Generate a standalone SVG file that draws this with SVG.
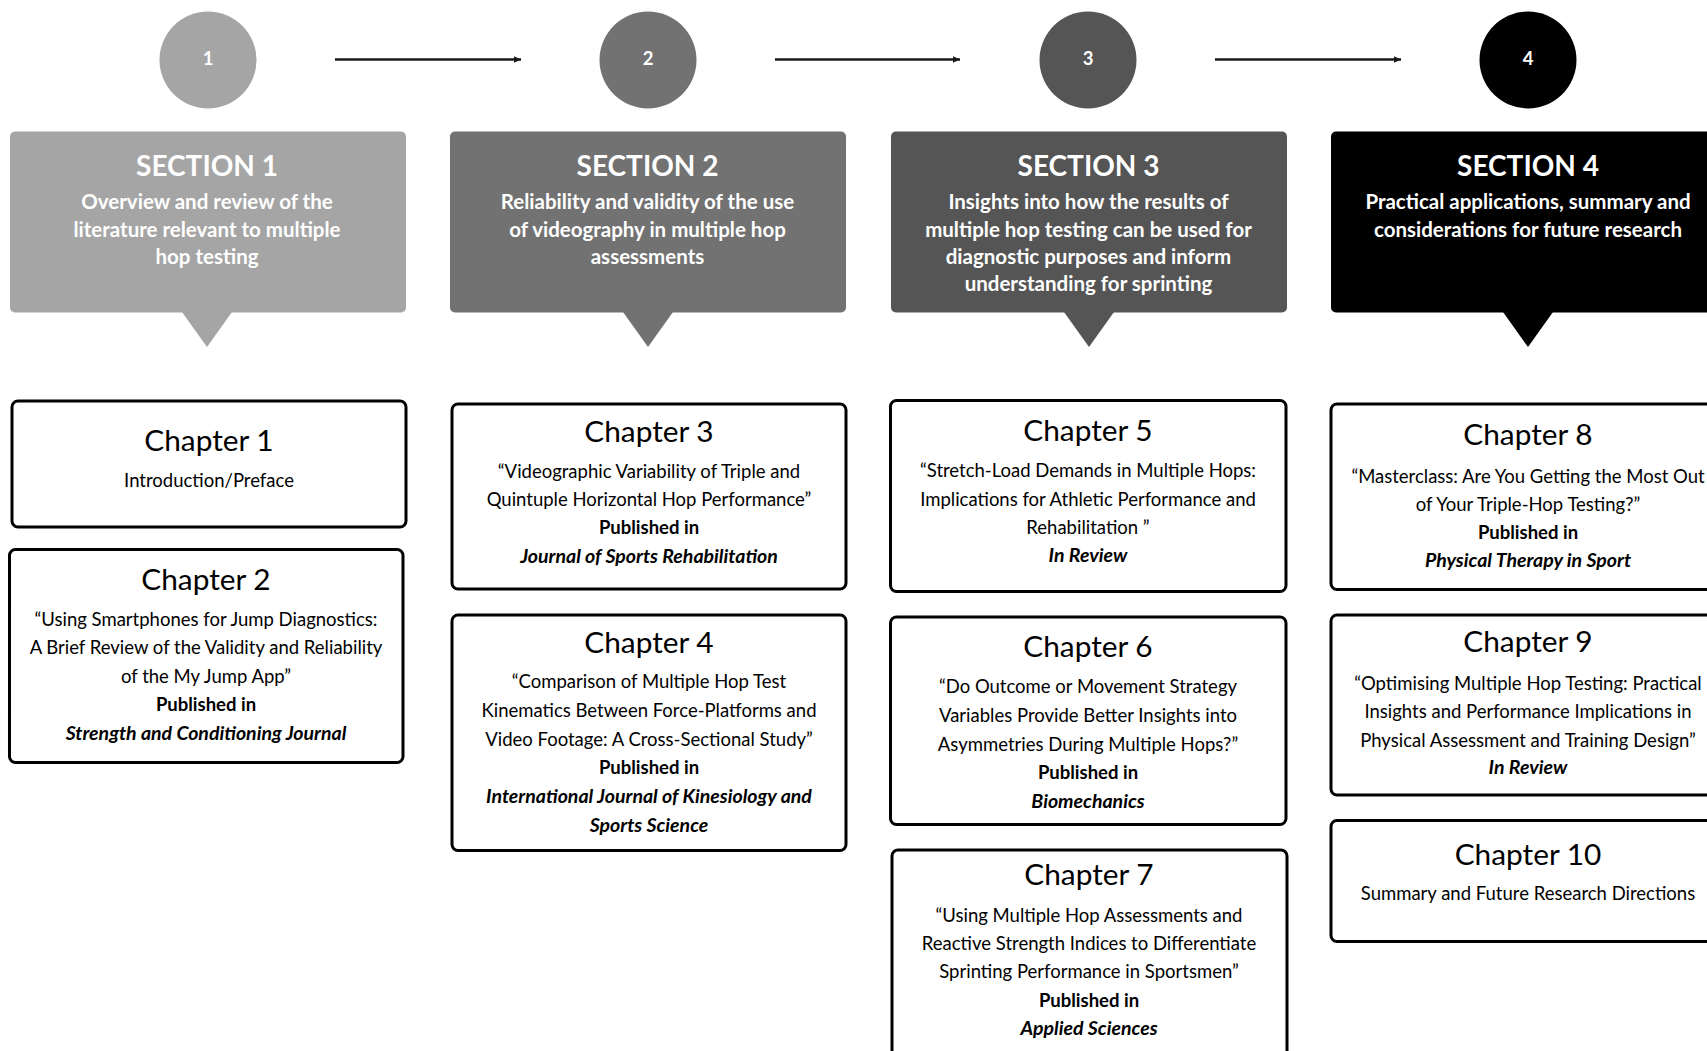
<svg xmlns="http://www.w3.org/2000/svg" width="1707" height="1051" viewBox="0 0 1707 1051">
  <style>
    text { font-family: Lato, "Open Sans", "Liberation Sans", sans-serif; text-anchor: middle; }
    .num { font-size: 18.5px; font-weight: 700; fill: #ffffff; }
    .sec-title { font-size: 28px; font-weight: 700; fill: #ffffff; }
    .sec-text { font-size: 20.5px; font-weight: 700; fill: #ffffff; }
    .ch-box { fill: #ffffff; stroke: #000000; stroke-width: 3; }
    .ch-title { font-size: 29.8px; font-weight: 400; fill: #000000; }
    .ch-text { font-size: 18.5px; font-weight: 400; fill: #000000; }
    .pub { font-weight: 700; }
    .journal { font-size: 19.5px; font-weight: 700; font-style: italic; }
    .flow { stroke: #1a1a1a; stroke-width: 2.5; fill: none; }
  </style>
  <defs>
    <marker id="head" markerUnits="userSpaceOnUse" markerWidth="8" markerHeight="8" refX="7" refY="4" orient="auto">
      <path d="M0,0.8 L7,4 L0,7.2 Z" fill="#1a1a1a"/>
    </marker>
  </defs>

  <rect width="1707" height="1051" fill="#ffffff"/>

  <!-- step markers -->
  <g id="step-1"><circle cx="208" cy="60" r="48.5" fill="#a5a5a5"/><text class="num" x="208" y="65">1</text></g>
  <g id="step-2"><circle cx="648" cy="60" r="48.5" fill="#727272"/><text class="num" x="648" y="65">2</text></g>
  <g id="step-3"><circle cx="1088" cy="60" r="48.5" fill="#555555"/><text class="num" x="1088" y="65">3</text></g>
  <g id="step-4"><circle cx="1528" cy="60" r="48.5" fill="#000000"/><text class="num" x="1528" y="65">4</text></g>

  <!-- connectors between steps -->
  <g id="connectors">
    <line class="flow" x1="335" y1="59.5" x2="521" y2="59.5" marker-end="url(#head)"/>
    <line class="flow" x1="775" y1="59.5" x2="960" y2="59.5" marker-end="url(#head)"/>
    <line class="flow" x1="1215" y1="59.5" x2="1401" y2="59.5" marker-end="url(#head)"/>
  </g>

  <!-- section callouts -->
  <g id="section-1">
    <rect x="10" y="131.5" width="396" height="181" rx="5" fill="#a5a5a5"/>
    <polygon points="182,312 232,312 207,347" fill="#a5a5a5"/>
    <text class="sec-title" x="207" y="176">SECTION 1</text>
    <text class="sec-text" x="207" y="209.3">Overview and review of the</text>
    <text class="sec-text" x="207" y="236.5">literature relevant to multiple</text>
    <text class="sec-text" x="207" y="263.7">hop testing</text>
  </g>
  <g id="section-2">
    <rect x="450" y="131.5" width="396" height="181" rx="5" fill="#727272"/>
    <polygon points="623,312 673,312 648,347" fill="#727272"/>
    <text class="sec-title" x="647.5" y="176">SECTION 2</text>
    <text class="sec-text" x="647.5" y="209.3">Reliability and validity of the use</text>
    <text class="sec-text" x="647.5" y="236.5">of videography in multiple hop</text>
    <text class="sec-text" x="647.5" y="263.7">assessments</text>
  </g>
  <g id="section-3">
    <rect x="891" y="131.5" width="396" height="181" rx="5" fill="#555555"/>
    <polygon points="1064,312 1114,312 1089,347" fill="#555555"/>
    <text class="sec-title" x="1088.5" y="176">SECTION 3</text>
    <text class="sec-text" x="1088.5" y="209.3">Insights into how the results of</text>
    <text class="sec-text" x="1088.5" y="236.5">multiple hop testing can be used for</text>
    <text class="sec-text" x="1088.5" y="263.7">diagnostic purposes and inform</text>
    <text class="sec-text" x="1088.5" y="291">understanding for sprinting</text>
  </g>
  <g id="section-4">
    <rect x="1331" y="131.5" width="396" height="181" rx="5" fill="#000000"/>
    <polygon points="1503,312 1553,312 1528,347" fill="#000000"/>
    <text class="sec-title" x="1528" y="176">SECTION 4</text>
    <text class="sec-text" x="1528" y="209.3">Practical applications, summary and</text>
    <text class="sec-text" x="1528" y="236.5">considerations for future research</text>
  </g>

  <!-- chapter cards: column 1 -->
  <g id="chapter-1">
    <rect class="ch-box" x="12" y="401" width="394" height="126" rx="6"/>
    <text class="ch-title" x="209" y="450.5">Chapter 1</text>
    <text class="ch-text" x="209" y="486.7">Introduction/Preface</text>
  </g>
  <g id="chapter-2">
    <rect class="ch-box" x="9.5" y="549.5" width="393.5" height="213" rx="6"/>
    <text class="ch-title" x="206" y="590">Chapter 2</text>
    <text class="ch-text" x="206" y="625.7">“Using Smartphones for Jump Diagnostics:</text>
    <text class="ch-text" x="206" y="654.3">A Brief Review of the Validity and Reliability</text>
    <text class="ch-text" x="206" y="683">of the My Jump App”</text>
    <text class="ch-text pub" x="206" y="711">Published in</text>
    <text class="ch-text journal" x="206" y="739.5">Strength and Conditioning Journal</text>
  </g>

  <!-- column 2 -->
  <g id="chapter-3">
    <rect class="ch-box" x="452" y="404" width="394" height="185" rx="6"/>
    <text class="ch-title" x="649" y="442.3">Chapter 3</text>
    <text class="ch-text" x="649" y="477.7">“Videographic Variability of Triple and</text>
    <text class="ch-text" x="649" y="506">Quintuple Horizontal Hop Performance”</text>
    <text class="ch-text pub" x="649" y="534.3">Published in</text>
    <text class="ch-text journal" x="649" y="562.7">Journal of Sports Rehabilitation</text>
  </g>
  <g id="chapter-4">
    <rect class="ch-box" x="452" y="615" width="394" height="235.5" rx="6"/>
    <text class="ch-title" x="649" y="652.7">Chapter 4</text>
    <text class="ch-text" x="649" y="688.3">“Comparison of Multiple Hop Test</text>
    <text class="ch-text" x="649" y="716.7">Kinematics Between Force-Platforms and</text>
    <text class="ch-text" x="649" y="746">Video Footage: A Cross-Sectional Study”</text>
    <text class="ch-text pub" x="649" y="774.3">Published in</text>
    <text class="ch-text journal" x="649" y="803">International Journal of Kinesiology and</text>
    <text class="ch-text journal" x="649" y="831.7">Sports Science</text>
  </g>

  <!-- column 3 -->
  <g id="chapter-5">
    <rect class="ch-box" x="890.5" y="400.5" width="395.5" height="191" rx="6"/>
    <text class="ch-title" x="1088" y="441">Chapter 5</text>
    <text class="ch-text" x="1088" y="476.7">“Stretch-Load Demands in Multiple Hops:</text>
    <text class="ch-text" x="1088" y="506">Implications for Athletic Performance and</text>
    <text class="ch-text" x="1088" y="534.3">Rehabilitation ”</text>
    <text class="ch-text journal" x="1088" y="562.3">In Review</text>
  </g>
  <g id="chapter-6">
    <rect class="ch-box" x="890.5" y="617" width="395.5" height="207.5" rx="6"/>
    <text class="ch-title" x="1088" y="656.7">Chapter 6</text>
    <text class="ch-text" x="1088" y="692.7">“Do Outcome or Movement Strategy</text>
    <text class="ch-text" x="1088" y="721.7">Variables Provide Better Insights into</text>
    <text class="ch-text" x="1088" y="751">Asymmetries During Multiple Hops?”</text>
    <text class="ch-text pub" x="1088" y="779.3">Published in</text>
    <text class="ch-text journal" x="1088" y="807.7">Biomechanics</text>
  </g>
  <g id="chapter-7">
    <rect class="ch-box" x="892" y="850" width="395" height="215" rx="6"/>
    <text class="ch-title" x="1089" y="885">Chapter 7</text>
    <text class="ch-text" x="1089" y="921.7">“Using Multiple Hop Assessments and</text>
    <text class="ch-text" x="1089" y="950">Reactive Strength Indices to Differentiate</text>
    <text class="ch-text" x="1089" y="978.3">Sprinting Performance in Sportsmen”</text>
    <text class="ch-text pub" x="1089" y="1006.7">Published in</text>
    <text class="ch-text journal" x="1089" y="1035">Applied Sciences</text>
  </g>

  <!-- column 4 -->
  <g id="chapter-8">
    <rect class="ch-box" x="1331" y="404" width="396" height="185.5" rx="6"/>
    <text class="ch-title" x="1528" y="445">Chapter 8</text>
    <text class="ch-text" x="1528" y="482.5">“Masterclass: Are You Getting the Most Out</text>
    <text class="ch-text" x="1528" y="511">of Your Triple-Hop Testing?”</text>
    <text class="ch-text pub" x="1528" y="538.5">Published in</text>
    <text class="ch-text journal" x="1528" y="567">Physical Therapy in Sport</text>
  </g>
  <g id="chapter-9">
    <rect class="ch-box" x="1331" y="615" width="396" height="180" rx="6"/>
    <text class="ch-title" x="1528" y="652">Chapter 9</text>
    <text class="ch-text" x="1528" y="689.6">“Optimising Multiple Hop Testing: Practical</text>
    <text class="ch-text" x="1528" y="718.2">Insights and Performance Implications in</text>
    <text class="ch-text" x="1528" y="746.8">Physical Assessment and Training Design”</text>
    <text class="ch-text journal" x="1528" y="774">In Review</text>
  </g>
  <g id="chapter-10">
    <rect class="ch-box" x="1331" y="820.5" width="396" height="121" rx="6"/>
    <text class="ch-title" x="1528" y="864.6">Chapter 10</text>
    <text class="ch-text" x="1528" y="900.4">Summary and Future Research Directions</text>
  </g>
</svg>
